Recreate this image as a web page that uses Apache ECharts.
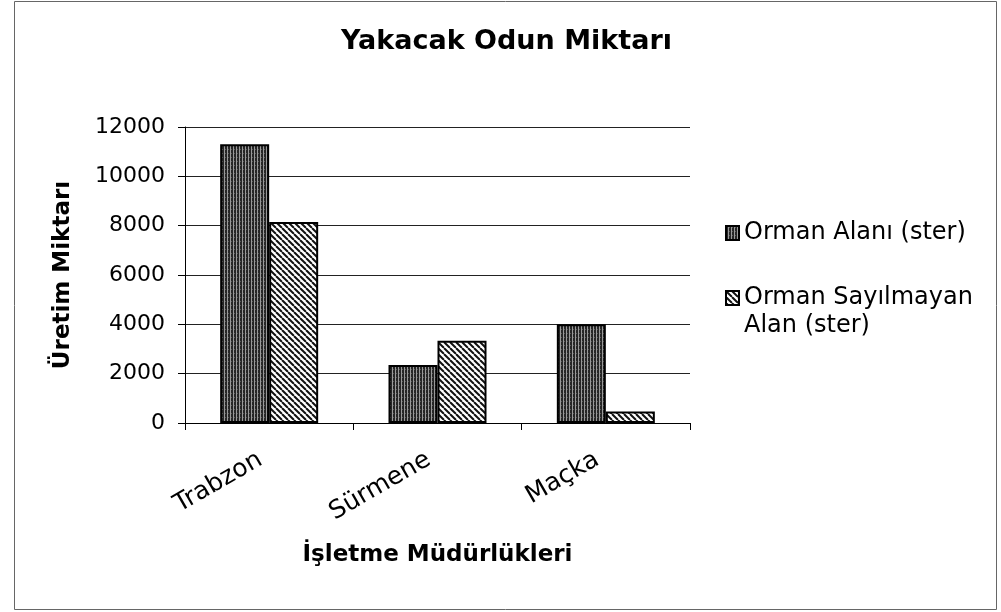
<!DOCTYPE html>
<html>
<head>
<meta charset="utf-8">
<script src="https://cdn.jsdelivr.net/npm/echarts@6/dist/echarts.min.js"></script>
<style>
  html, body { margin: 0; padding: 0; background: #fff; }
  #chart { width: 1001px; height: 612px; }
</style>
</head>
<body>
<div id="chart"></div>
<script>
// veriler
var mudurlukler = ['Trabzon', 'Sürmene', 'Maçka'];
var ormanAlani = [11300, 2350, 4000];
var ormanSayilmayan = [8150, 3330, 470];
var yTicks = [0, 2000, 4000, 6000, 8000, 10000, 12000];

var FONT = 'DejaVu Sans';

// dikey çizgili koyu desen
function dikeyDesen() {
  var c = document.createElement('canvas');
  c.width = 3; c.height = 4;
  var ctx = c.getContext('2d');
  ctx.fillStyle = '#262626';
  ctx.fillRect(0, 0, 3, 4);
  ctx.fillStyle = '#9a9a9a';
  ctx.fillRect(2, 0, 1, 4);
  ctx.fillStyle = '#5a5a5a';
  ctx.fillRect(0, 1, 1, 1);
  return c;
}

// çapraz taralı desen
function caprazDesen() {
  var c = document.createElement('canvas');
  c.width = 6; c.height = 6;
  var ctx = c.getContext('2d');
  ctx.fillStyle = '#fff';
  ctx.fillRect(0, 0, 6, 6);
  ctx.strokeStyle = '#111';
  ctx.lineWidth = 2;
  [-6, 0, 6].forEach(function (x) {
    ctx.beginPath();
    ctx.moveTo(x, 0);
    ctx.lineTo(x + 6, 6);
    ctx.stroke();
  });
  return c;
}

var myChart = echarts.init(document.getElementById('chart'));
var option = {
  animation: false,
  backgroundColor: '#fff',
  title: {
    text: 'Yakacak Odun Miktarı',
    left: 336,
    top: 23,
    textStyle: { fontFamily: FONT, fontSize: 27, fontWeight: 'bold', color: '#000' }
  },
  graphic: [{
    type: 'rect',
    shape: { x: 14.5, y: 1.5, width: 982, height: 608 },
    style: { fill: 'none', stroke: '#666', lineWidth: 1 },
    silent: true
  }],
  legend: [{
    orient: 'vertical',
    left: 720,
    top: 216,
    itemWidth: 13,
    itemHeight: 14,
    icon: 'rect',
    data: ['Orman Alanı (ster)'],
    textStyle: { fontFamily: FONT, fontSize: 24, color: '#000' }
  }, {
    // ikon ilk satırla hizalı kalsın diye kutu aşağı uzatıldı
    orient: 'vertical',
    left: 720,
    top: 279,
    itemWidth: 13,
    itemHeight: 42,
    icon: 'path://M0,0h13v14h-13z M0,42',
    data: ['Orman Sayılmayan\nAlan (ster)'],
    textStyle: { fontFamily: FONT, fontSize: 24, color: '#000', lineHeight: 28 }
  }],
  grid: { left: 185, right: 311, top: 127, bottom: 189 },
  xAxis: {
    type: 'category',
    data: mudurlukler,
    name: 'İşletme Müdürlükleri',
    nameLocation: 'middle',
    nameGap: 121,
    nameTextStyle: { fontFamily: FONT, fontSize: 23, fontWeight: 'bold', color: '#000' },
    axisLine: { lineStyle: { color: '#000', width: 1 } },
    axisTick: { show: true, length: 7, lineStyle: { color: '#000' } },
    axisLabel: { rotate: 30, margin: 30, padding: [0, 10, 0, 0], fontFamily: FONT, fontSize: 25, color: '#000' }
  },
  yAxis: {
    type: 'value',
    min: yTicks[0],
    max: yTicks[yTicks.length - 1],
    interval: 2000,
    name: 'Üretim Miktarı',
    nameLocation: 'middle',
    nameGap: 110,
    nameTextStyle: { fontFamily: FONT, fontSize: 23, fontWeight: 'bold', color: '#000' },
    axisLine: { show: true, lineStyle: { color: '#000', width: 1 } },
    axisTick: { show: true, length: 7, lineStyle: { color: '#000' } },
    axisLabel: {
      margin: 20, fontFamily: FONT, fontSize: 22, color: '#000',
      formatter: function (v) { return String(v); }
    },
    splitLine: { lineStyle: { color: '#222', width: 1 } }
  },
  series: [{
    name: 'Orman Alanı (ster)',
    type: 'bar',
    data: ormanAlani,
    barWidth: 49,
    barGap: '0%',
    itemStyle: { color: { image: dikeyDesen(), repeat: 'repeat' }, borderColor: '#000', borderWidth: 2 }
  }, {
    name: 'Orman Sayılmayan\nAlan (ster)',
    type: 'bar',
    data: ormanSayilmayan,
    barWidth: 49,
    barGap: '0%',
    itemStyle: { color: { image: caprazDesen(), repeat: 'repeat' }, borderColor: '#000', borderWidth: 2 }
  }]
};
myChart.setOption(option);
</script>
</body>
</html>
